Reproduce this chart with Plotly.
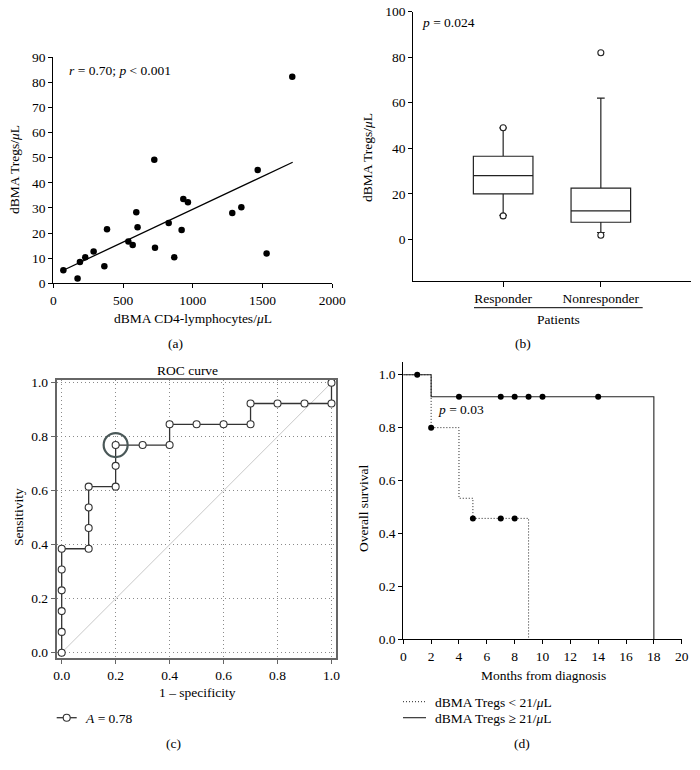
import plotly.graph_objects as go

W, H = 700, 770
FONT = "Liberation Serif"


def px(x):
    return x / W


def py(y):
    return 1 - y / H


# ---------------- data ----------------
# (a) scatter
cd4 = [72, 174, 191, 229, 289, 366, 385, 538, 569, 595, 604, 724, 729, 827, 867,
       920, 932, 965, 1283, 1348, 1465, 1529, 1713]
tregs = [5.2, 1.9, 8.5, 10.4, 12.7, 6.8, 21.5, 16.6, 15.3, 28.3, 22.3, 49.2, 14.2,
         24.0, 10.4, 21.2, 33.6, 32.3, 28.0, 30.3, 45.1, 11.9, 82.3]
fit_x = [72, 1716]
fit_y = [5.2, 48.2]

# (b) boxplot
groups = ["Responder", "Nonresponder"]
box_q1 = [20.0, 7.5]
box_median = [28.0, 12.5]
box_q3 = [36.5, 22.5]
box_low = [10.5, 3.0]
box_high = [49.0, 62.0]
outlier_group = [0, 0, 1, 1]
outlier_val = [49.0, 10.3, 82.0, 1.8]

# (c) ROC
fpr = [0, 0, 0, 0, 0, 0, 0.1, 0.1, 0.1, 0.1, 0.2, 0.2, 0.2, 0.3, 0.4, 0.4, 0.5,
       0.6, 0.7, 0.7, 0.8, 0.9, 1.0, 1.0]
tpr = [0, 0.077, 0.154, 0.231, 0.308, 0.385, 0.385, 0.462, 0.538, 0.615, 0.615,
       0.692, 0.769, 0.769, 0.769, 0.846, 0.846, 0.846, 0.846, 0.923, 0.923, 0.923,
       0.923, 1.0]
cutoff_fpr = [0.2]
cutoff_tpr = [0.769]
diag = [0, 1]

# (d) Kaplan-Meier
km_hi_t = [0, 2, 18, 18]
km_hi_s = [1.0, 0.917, 0.917, 0.0]
km_hi_cens_t = [1, 4, 7, 8, 9, 10, 14]
km_hi_cens_s = [1.0, 0.917, 0.917, 0.917, 0.917, 0.917, 0.917]
km_lo_t = [0, 2, 4, 5, 9, 9]
km_lo_s = [1.0, 0.8, 0.533, 0.457, 0.457, 0.0]
km_lo_cens_t = [2, 5, 7, 8]
km_lo_cens_s = [0.8, 0.457, 0.457, 0.457]

fig = go.Figure()

# (a)
fig.add_trace(go.Scatter(x=fit_x, y=fit_y, mode="lines", line=dict(color="black", width=1.3),
                         xaxis="x", yaxis="y", showlegend=False))
fig.add_trace(go.Scatter(x=cd4, y=tregs, mode="markers", marker=dict(color="black", size=6.5),
                         xaxis="x", yaxis="y", showlegend=False))

# (b)
fig.add_trace(go.Box(x=[0, 1], q1=box_q1, median=box_median, q3=box_q3,
                     lowerfence=box_low, upperfence=box_high, width=0.61, whiskerwidth=0.13,
                     line=dict(color="#222", width=1.2), fillcolor="white",
                     boxpoints=False, xaxis="x2", yaxis="y2", showlegend=False))
fig.add_trace(go.Scatter(x=outlier_group, y=outlier_val, mode="markers",
                         marker=dict(symbol="circle", color="white", size=6,
                                     line=dict(color="#222", width=1.1)),
                         xaxis="x2", yaxis="y2", showlegend=False))

# (c)
fig.add_trace(go.Scatter(x=diag, y=diag, mode="lines", line=dict(color="#c8c8c8", width=1),
                         xaxis="x3", yaxis="y3", showlegend=False))
fig.add_trace(go.Scatter(x=fpr, y=tpr, mode="lines+markers",
                         line=dict(color="#333", width=1.3),
                         marker=dict(symbol="circle", color="white", size=7,
                                     line=dict(color="#333", width=1.1)),
                         xaxis="x3", yaxis="y3", showlegend=False))
fig.add_trace(go.Scatter(x=cutoff_fpr, y=cutoff_tpr, mode="markers",
                         marker=dict(symbol="circle", color="rgba(0,0,0,0)", size=24,
                                     line=dict(color="#4a5858", width=2.2)),
                         xaxis="x3", yaxis="y3", showlegend=False))

# (d)
fig.add_trace(go.Scatter(x=km_lo_t, y=km_lo_s, mode="lines", line_shape="hv",
                         line=dict(color="#222", width=1, dash="1px,2px"),
                         xaxis="x4", yaxis="y4", showlegend=False))
fig.add_trace(go.Scatter(x=km_hi_t, y=km_hi_s, mode="lines", line_shape="hv",
                         line=dict(color="#222", width=1.1),
                         xaxis="x4", yaxis="y4", showlegend=False, cliponaxis=False))
fig.add_trace(go.Scatter(x=km_hi_cens_t, y=km_hi_cens_s, mode="markers",
                         marker=dict(color="black", size=6),
                         xaxis="x4", yaxis="y4", showlegend=False))
fig.add_trace(go.Scatter(x=km_lo_cens_t, y=km_lo_cens_s, mode="markers",
                         marker=dict(color="black", size=6),
                         xaxis="x4", yaxis="y4", showlegend=False))

tickfont = dict(family=FONT, size=13.5, color="#000")
base = dict(showline=True, linecolor="black", linewidth=1, ticks="outside", ticklen=4,
            tickcolor="black", showgrid=False, zeroline=False, tickfont=tickfont,
            fixedrange=True)
roc = dict(showline=True, linecolor="#666", linewidth=2, mirror=True, ticks="outside",
           ticklen=4, tickcolor="#666", showgrid=True, gridcolor="#8a8a8a",
           griddash="1px,3px", gridwidth=1, zeroline=False, tickfont=tickfont,
           tickvals=[0, 0.2, 0.4, 0.6, 0.8, 1.0], tickformat=".1f", fixedrange=True)

fig.update_layout(
    width=W, height=H, margin=dict(l=0, r=0, t=0, b=0, autoexpand=False),
    paper_bgcolor="white", plot_bgcolor="white",
    font=dict(family=FONT, size=13, color="#000"),
    xaxis=dict(base, domain=[px(53.3), px(332.3)], range=[0, 2000],
               tickvals=[0, 500, 1000, 1500, 2000], anchor="y"),
    yaxis=dict(base, domain=[py(283.3), py(57.3)], range=[0, 90],
               tickvals=list(range(0, 91, 10)), anchor="x"),
    xaxis2=dict(base, domain=[px(413.3), px(690.7)], range=[-0.92, 1.92],
                tickvals=[0, 1], ticktext=groups, ticklen=5, anchor="y2"),
    yaxis2=dict(base, domain=[py(281), py(11.7)], range=[-18.3, 100],
                tickvals=[0, 20, 40, 60, 80, 100], anchor="x2"),
    xaxis3=dict(roc, domain=[px(56.7), px(336)], range=[-0.0185, 1.0167], anchor="y3"),
    yaxis3=dict(roc, domain=[py(657.7), py(380)], range=[-0.0185, 1.01], anchor="x3"),
    xaxis4=dict(base, domain=[px(403.3), px(681.7)], range=[0, 20],
                tickvals=list(range(0, 21, 2)), anchor="y4"),
    yaxis4=dict(base, domain=[py(639.3), py(361.5)], range=[0, 1.05],
                tickvals=[0, 0.2, 0.4, 0.6, 0.8, 1.0], tickformat=".1f", anchor="x4"),
)

ann = []


def text(x, y, s, xanchor="center", angle=0, size=13.5):
    ann.append(dict(x=px(x), y=py(y), xref="paper", yref="paper", text=s, showarrow=False,
                    xanchor=xanchor, yanchor="middle", textangle=angle,
                    font=dict(family=FONT, size=size, color="#000")))


MU = "<i>\u03bc</i>"
# (a)
text(67, 71, "<i>r</i> = 0.70; <i>p</i> &lt; 0.001", xanchor="left")
text(15, 170, "dBMA Tregs/" + MU + "L", angle=-90)
text(193, 318, "dBMA CD4-lymphocytes/" + MU + "L")
text(175, 343, "(a)")
# (b)
text(420, 23, "<i>p</i> = 0.024", xanchor="left")
text(367, 157, "dBMA Tregs/" + MU + "L", angle=-90)
text(558, 319, "Patients")
text(523, 343, "(b)")
# (c)
text(187, 370, "ROC curve")
text(197, 692, "1 \u2013 specificity")
text(18, 517, "Sensitivity", angle=-90)
text(83, 718, "<i>A</i> = 0.78", xanchor="left")
text(173, 743, "(c)")
# (d)
text(436, 409, "<i>p</i> = 0.03", xanchor="left")
text(543, 675, "Months from diagnosis")
text(363, 508, "Overall survival", angle=-90)
text(432.7, 702, "dBMA Tregs &lt; 21/" + MU + "L", xanchor="left")
text(432.7, 718, "dBMA Tregs \u2265 21/" + MU + "L", xanchor="left")
text(522, 743, "(d)")
fig.update_layout(annotations=ann)

shapes = [
    # (b) patients bracket line
    dict(type="line", xref="paper", yref="paper", x0=px(474), x1=px(642.7),
         y0=py(307.7), y1=py(307.7), line=dict(color="black", width=1)),
    # (c) legend line + circle
    dict(type="line", xref="paper", yref="paper", x0=px(56.7), x1=px(76.7),
         y0=py(717.7), y1=py(717.7), line=dict(color="#333", width=1.3)),
    dict(type="circle", xref="paper", yref="paper", x0=px(63.2), x1=px(70.2),
         y0=py(714.2), y1=py(721.2), line=dict(color="#333", width=1.1), fillcolor="white"),
    # (d) legend lines
    dict(type="line", xref="paper", yref="paper", x0=px(403), x1=px(426),
         y0=py(701.7), y1=py(701.7), line=dict(color="#222", width=1, dash="1px,2px")),
    dict(type="line", xref="paper", yref="paper", x0=px(403), x1=px(426),
         y0=py(717.7), y1=py(717.7), line=dict(color="#222", width=1.1)),
]
fig.update_layout(shapes=shapes)

fig.write_html("out.html",
               config={"displayModeBar": False, "staticPlot": True},
               post_script="document.body.style.margin='0px';"
                           "document.body.style.padding='0px';"
                           "document.body.style.overflow='hidden';")
